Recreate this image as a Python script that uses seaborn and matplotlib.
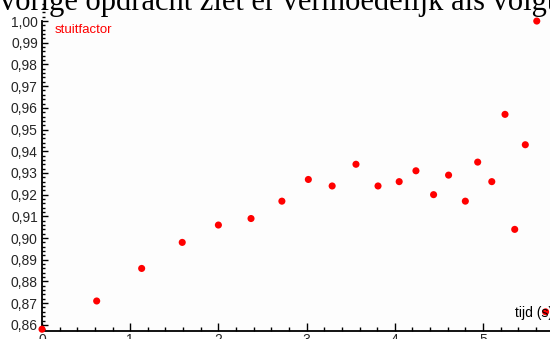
import matplotlib
matplotlib.use("Agg")
import matplotlib.pyplot as plt
from matplotlib.ticker import MultipleLocator, FuncFormatter
import seaborn as sns
import pandas as pd

# Measured bounce data: time (s) and coefficient of restitution
tijd = [0.00, 0.62, 1.13, 1.59, 2.00, 2.37, 2.72, 3.02, 3.29, 3.56, 3.81, 4.05,
        4.24, 4.44, 4.61, 4.80, 4.94, 5.10, 5.25, 5.36, 5.48, 5.61, 5.71]
stuitfactor = [0.858, 0.871, 0.886, 0.898, 0.906, 0.909, 0.917, 0.927, 0.924, 0.934,
               0.924, 0.926, 0.931, 0.920, 0.929, 0.917, 0.935, 0.926, 0.957, 0.904,
               0.943, 1.000, 0.866]
x_ticks = [0, 1, 2, 3, 4, 5]
y_ticks = [0.86, 0.87, 0.88, 0.89, 0.90, 0.91, 0.92, 0.93, 0.94, 0.95, 0.96, 0.97,
           0.98, 0.99, 1.00]

df = pd.DataFrame({"tijd": tijd, "stuitfactor": stuitfactor})

sns.set_style("white")
plt.rcParams["font.family"] = ["Liberation Sans", "DejaVu Sans"]

W, H = 550, 339
fig = plt.figure(figsize=(W / 100, H / 100), dpi=100)
ax = fig.add_axes([42 / W, 8.5 / H, 508 / W, 330.5 / H])

y0, y1 = 0.8574, 1.0097
ax.set_xlim(0, 5.76)
ax.set_ylim(y0, y1)

sns.scatterplot(data=df, x="tijd", y="stuitfactor", ax=ax, color="#ff0000",
                s=26, edgecolor="none", zorder=5, clip_on=False, legend=False)

ax.set_xlabel("")
ax.set_ylabel("")
for side in ("top", "right"):
    ax.spines[side].set_visible(False)
for side in ("left", "bottom"):
    ax.spines[side].set_color("black")
    ax.spines[side].set_linewidth(1.3)
ax.spines["left"].set_bounds(y0, 1.0)

ax.set_xticks(x_ticks)
ax.set_yticks(y_ticks)
ax.xaxis.set_minor_locator(MultipleLocator(0.2))
ax.yaxis.set_minor_locator(MultipleLocator(0.002))
ax.yaxis.set_major_formatter(FuncFormatter(lambda v, p: f"{v:.2f}".replace(".", ",")))
ax.tick_params(axis="x", which="major", direction="in", length=6, width=1,
               color="black", labelsize=10, pad=2)
ax.tick_params(axis="x", which="minor", direction="in", length=3, width=1, color="black")
ax.tick_params(axis="y", which="major", direction="in", length=4.5, width=1,
               color="black", labelsize=10, pad=3)
ax.tick_params(axis="y", which="minor", direction="in", length=2.5, width=1, color="black")
ax.tick_params(axis="both", which="both", left=True, bottom=True)
ax.set_facecolor("#fdfdfd")

fig.text(55 / W, 1 - 30 / H, "stuitfactor", color="#ff0000", fontsize=9.5,
         va="center", ha="left")
fig.text(515 / W, 1 - 313 / H, "tijd (s)", color="black", fontsize=10,
         va="center", ha="left", zorder=1)
fig.text(0.0, 1 - 10 / H, "vorige opdracht ziet er vermoedelijk als volgt",
         family=["Liberation Serif", "DejaVu Serif"], fontsize=22, va="baseline",
         ha="left", color="black")

fig.savefig("out.png", dpi=100, facecolor="white")
